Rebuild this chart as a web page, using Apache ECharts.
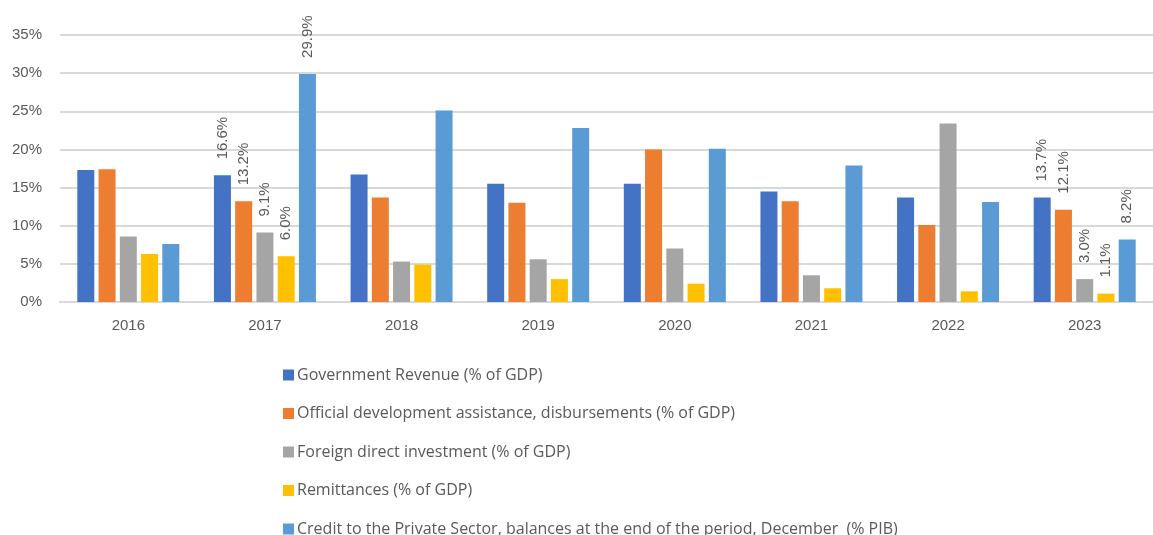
<!DOCTYPE html>
<html>
<head>
<meta charset="utf-8">
<script src="https://cdn.jsdelivr.net/npm/echarts@6/dist/echarts.min.js"></script>
<style>html,body{margin:0;padding:0;background:#fff;}#c{width:1153px;height:535px;}</style>
</head>
<body>
<div id="c"></div>
<script>
var categories = ['2016','2017','2018','2019','2020','2021','2022','2023'];
var seriesNames = [
  'Government Revenue (% of GDP)',
  'Official development assistance, disbursements (% of GDP)',
  'Foreign direct investment (% of GDP)',
  'Remittances (% of GDP)',
  'Credit to the Private Sector, balances at the end of the period, December  (% PIB)'
];
var govRevenue = [17.3, 16.6, 16.7, 15.5, 15.5, 14.5, 13.7, 13.7];
var oda        = [17.4, 13.2, 13.7, 13.0, 20.0, 13.2, 10.1, 12.1];
var fdi        = [8.6, 9.1, 5.3, 5.6, 7.0, 3.5, 23.4, 3.0];
var remittances= [6.3, 6.0, 4.9, 3.0, 2.4, 1.8, 1.4, 1.1];
var credit     = [7.6, 29.9, 25.1, 22.8, 20.1, 17.9, 13.1, 8.2];
var yTicks = [0, 5, 10, 15, 20, 25, 30, 35];
var labeledYears = ['2017','2023'];

var colors = ['#4472C4','#ED7D31','#A5A5A5','#FFC000','#5B9BD5'];
var font = "'Liberation Sans', Arial, sans-serif";
var legendFont = "'Open Sans', 'Liberation Sans', sans-serif";
var allData = [govRevenue, oda, fdi, remittances, credit];

var series = allData.map(function(d, i){
  return {
    name: seriesNames[i],
    type: 'bar',
    barWidth: 17,
    barGap: '25%',
    itemStyle: {color: colors[i]},
    data: d.map(function(v, j){
      var item = {value: v};
      if (labeledYears.indexOf(categories[j]) >= 0) {
        item.label = {show: true};
      }
      return item;
    }),
    label: {
      show: false,
      position: 'top',
      rotate: 90,
      align: 'left',
      verticalAlign: 'middle',
      distance: 16,
      fontFamily: font,
      fontSize: 15,
      color: '#595959',
      formatter: function(p){ return p.value.toFixed(1) + '%'; }
    }
  };
});

var chart = echarts.init(document.getElementById('c'));
chart.setOption({
  animation: false,
  backgroundColor: '#ffffff',
  grid: {left: 60, top: 35, width: 1106, height: 267, containLabel: false},
  xAxis: {
    type: 'category',
    data: categories,
    axisLine: {lineStyle: {color: '#d9d9d9', width: 2}},
    axisTick: {show: false},
    axisLabel: {color: '#595959', fontFamily: font, fontSize: 15, margin: 16}
  },
  yAxis: {
    type: 'value',
    min: yTicks[0],
    max: yTicks[yTicks.length-1],
    interval: 5,
    axisLine: {show: false},
    axisTick: {show: false},
    splitLine: {lineStyle: {color: '#d9d9d9', width: 2}},
    axisLabel: {color: '#595959', fontFamily: font, fontSize: 15, margin: 18,
      formatter: function(v){ return v + '%'; }}
  },
  legend: {
    orient: 'vertical',
    left: 283,
    top: 367,
    height: 400,
    padding: 0,
    itemWidth: 11,
    itemHeight: 11,
    itemGap: 22.5,
    icon: 'rect',
    data: seriesNames,
    textStyle: {color: '#595959', fontFamily: legendFont, fontSize: 16, lineHeight: 16, padding: [0,0,0,-2]}
  },
  series: series
});
</script>
</body>
</html>
